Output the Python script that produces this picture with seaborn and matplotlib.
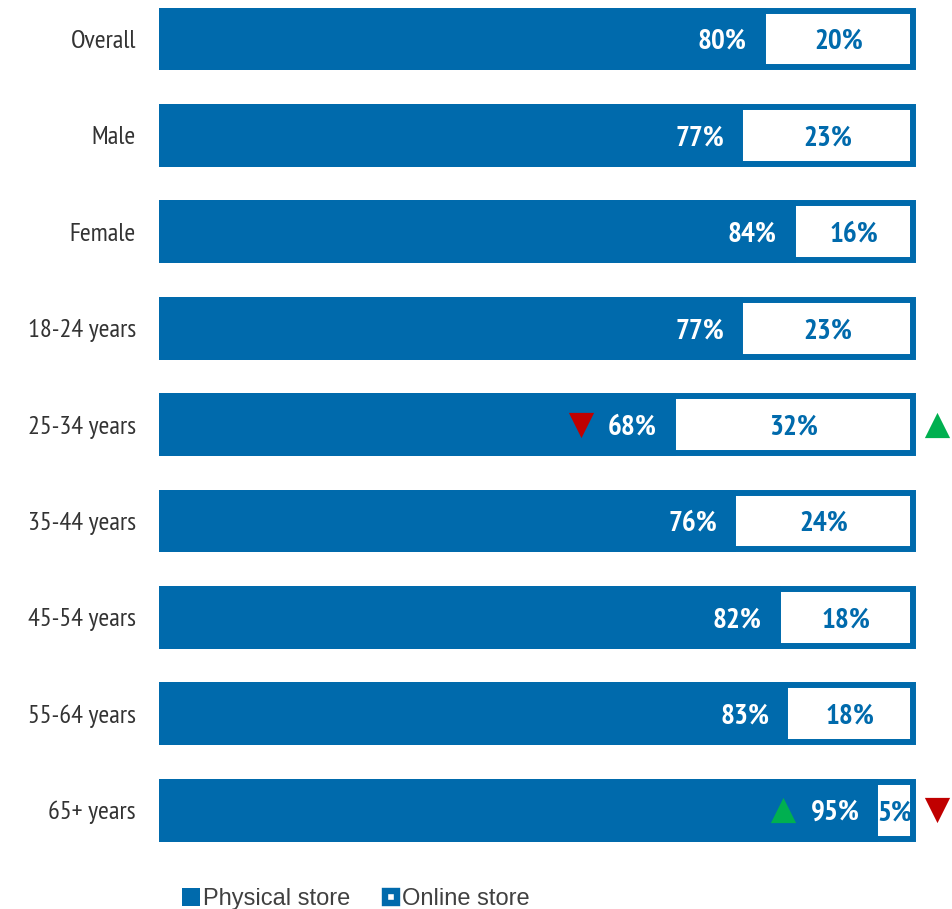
import matplotlib
matplotlib.use("Agg")
import matplotlib.pyplot as plt
import matplotlib.transforms as mtransforms
from matplotlib.lines import Line2D
from matplotlib import font_manager
import seaborn as sns
import pandas as pd

categories = ["Overall", "Male", "Female", "18-24 years", "25-34 years",
              "35-44 years", "45-54 years", "55-64 years", "65+ years"]
physical = [80, 77, 84, 77, 68, 76, 82, 83, 95]
online = [20, 23, 16, 23, 32, 24, 18, 18, 5]
physical_change = [None, None, None, None, "down", None, None, None, "up"]
online_change = [None, None, None, None, "up", None, None, None, "down"]
series = ["Physical store", "Online store"]

BLUE = "#006AAC"
GREEN = "#00B050"
RED = "#C00000"


def pick_narrow():
    fams = {}
    for f in font_manager.fontManager.ttflist:
        fams.setdefault(f.name, set()).add(f.weight if isinstance(f.weight, int) else 400)
    for cand in ["Liberation Sans Narrow", "Arimo Narrow", "PT Sans Narrow",
                 "Roboto Condensed", "Barlow Semi Condensed", "Archivo Narrow"]:
        w = fams.get(cand)
        if w and 400 in w and 700 in w:
            return cand
    return "DejaVu Sans"


narrow = pick_narrow()
names = {f.name for f in font_manager.fontManager.ttflist}
regular = "Liberation Sans" if "Liberation Sans" in names else "DejaVu Sans"

sns.set_theme(style="white")
plt.rcParams["font.family"] = [regular, "DejaVu Sans"]

df = pd.DataFrame({"category": categories, "physical": physical, "online": online})
# shares are shown as parts of a 100% bar
df["total"] = (df["physical"] + df["online"]).clip(upper=100)

fig = plt.figure(figsize=(9.53, 9.09), dpi=100)
ax = fig.add_axes([162 / 953, 1 - 860 / 909, 751 / 953, 860 / 909])

lw = 4.3
sns.barplot(data=df, y="category", x="total", orient="h", color="white",
            edgecolor=BLUE, linewidth=lw, width=0.59, saturation=1, ax=ax)
sns.barplot(data=df, y="category", x="physical", orient="h", color=BLUE,
            edgecolor=BLUE, linewidth=lw, width=0.59, saturation=1, ax=ax)
for patch in ax.patches:
    patch.set_clip_on(False)

ax.set_xlim(0, 100)
ax.set_ylim(8.517, -0.405)
ax.set_xlabel("")
ax.set_ylabel("")
ax.set_xticks([])
for s in ax.spines.values():
    s.set_visible(False)
ax.tick_params(axis="y", length=0, pad=18.7)
for lab in ax.get_yticklabels():
    lab.set_fontfamily([narrow, "DejaVu Sans"])
    lab.set_fontsize(19)
    lab.set_color("#333333")

for i in range(len(categories)):
    p, o, t = physical[i], online[i], df["total"][i]
    ax.annotate(f"{p}%", xy=(p, i), xytext=(-16, -3), textcoords="offset pixels",
                ha="right", va="center", color="white", fontsize=21,
                fontweight="bold", family=[narrow, "DejaVu Sans"])
    ax.annotate(f"{o}%", xy=((p + t) / 2, i), xytext=(1, -3), textcoords="offset pixels",
                ha="center", va="center", color=BLUE,
                fontsize=21, fontweight="bold", family=[narrow, "DejaVu Sans"])
    for chg, xval, dx in ((physical_change[i], p, -92), (online_change[i], 100, 24)):
        if chg is None:
            continue
        tr = mtransforms.offset_copy(ax.transData, fig=fig, x=dx, y=0, units="dots")
        ax.scatter([xval], [i], marker="^" if chg == "up" else "v",
                   color=GREEN if chg == "up" else RED, s=330, transform=tr,
                   clip_on=False, linewidths=0, zorder=5)

handles = [Line2D([], [], linestyle="none", marker="s", markersize=13.5,
                  markerfacecolor=BLUE, markeredgewidth=0),
           Line2D([], [], linestyle="none", marker="s", markersize=9,
                  markerfacecolor="white", markeredgecolor=BLUE, markeredgewidth=4.6)]
fig.legend(handles, series, loc="center left",
           bbox_to_anchor=(182 / 953, 1 - 899 / 909), frameon=False, ncol=2,
           handlelength=0.8, handletextpad=0.1,
           columnspacing=1.3, fontsize=17, labelcolor="#404040",
           borderaxespad=0, borderpad=0)

fig.savefig("out.png", dpi=100)
